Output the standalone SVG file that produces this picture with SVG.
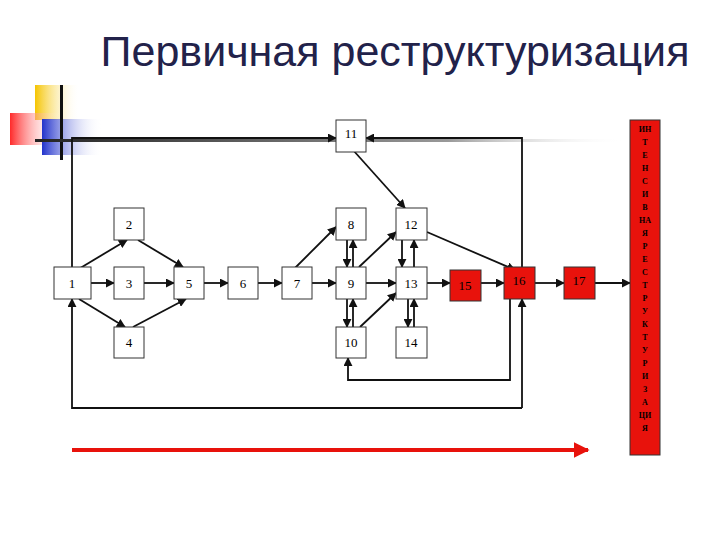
<svg xmlns="http://www.w3.org/2000/svg" width="720" height="540" viewBox="0 0 720 540">
<style>
.b{fill:#fff;stroke:#333;stroke-width:1}
.r{fill:#e8120c;stroke:#333;stroke-width:1}
.t{font-family:"Liberation Serif",serif;font-size:13px;text-anchor:middle;fill:#000}
.c{fill:none;stroke:#111;stroke-width:1.8;marker-end:url(#a)}
.l{fill:none;stroke:#111;stroke-width:1.5}
.v{font-family:"Liberation Serif",serif;font-size:8px;font-weight:bold;text-anchor:middle;fill:#000}
</style>
<defs>
<marker id="a" viewBox="0 0 10 10" refX="9" refY="5" markerWidth="5" markerHeight="5" orient="auto"><path d="M0,0L10,5L0,10z" fill="#111"/></marker>
<marker id="ar" viewBox="0 0 10 10" refX="9" refY="5" markerWidth="4" markerHeight="4" orient="auto"><path d="M0,0L10,5L0,10z" fill="#e8120c"/></marker>
<linearGradient id="gy" x1="0" x2="1"><stop offset="0" stop-color="#f5c400"/><stop offset="1" stop-color="#fff" stop-opacity="0"/></linearGradient>
<linearGradient id="gr" x1="0" x2="1"><stop offset="0" stop-color="#ff2a2a"/><stop offset="1" stop-color="#fff" stop-opacity="0"/></linearGradient>
<linearGradient id="gb" x1="0" x2="1"><stop offset="0" stop-color="#2233cc"/><stop offset="1" stop-color="#fff" stop-opacity="0"/></linearGradient>
<linearGradient id="gl" x1="0" x2="1"><stop offset="0" stop-color="#222"/><stop offset="0.7" stop-color="#999"/><stop offset="1" stop-color="#fff" stop-opacity="0"/></linearGradient>
</defs>
<g id="decor">
<rect x="35" y="85" width="45" height="35" fill="url(#gy)"/>
<rect x="10" y="113" width="50" height="32" fill="url(#gr)"/>
<rect x="42" y="119" width="60" height="36" fill="url(#gb)"/>
<rect x="60" y="85" width="3" height="75" fill="#111"/>
<rect x="35" y="139" width="590" height="3" fill="url(#gl)"/>
</g>
<text x="395" y="66" font-family="'Liberation Sans',Arial,sans-serif" font-size="43" fill="#22224a" text-anchor="middle">Первичная реструктуризация</text>
<g id="connectors">
<path class="c" d="M72,267V138H336"/>
<path class="c" d="M522,267V138H366"/>
<path class="c" d="M522,408V299"/>
<path class="c" d="M522,408H72V299"/>
<path class="c" d="M510,299V380H348V358"/>
<path class="c" d="M77,270L127,240"/>
<path class="c" d="M138,240L183,267"/>
<path class="c" d="M91,283H114"/>
<path class="c" d="M144,283H174"/>
<path class="c" d="M79,299L125,327"/>
<path class="c" d="M133,327L186,299"/>
<path class="c" d="M204,283H228"/>
<path class="c" d="M258,283H282"/>
<path class="c" d="M312,283H336"/>
<path class="c" d="M293,270L336,227"/>
<path class="c" d="M347,240V267"/>
<path class="c" d="M353,267V240"/>
<path class="c" d="M347,299V327"/>
<path class="c" d="M353,327V299"/>
<path class="c" d="M359,267L396,232"/>
<path class="c" d="M360,327L396,293"/>
<path class="c" d="M402,240V267"/>
<path class="c" d="M414,267V240"/>
<path class="c" d="M408,299V327"/>
<path class="c" d="M414,327V299"/>
<path class="c" d="M366,283H396"/>
<path class="c" d="M427,283H450"/>
<path class="c" d="M481,283H504"/>
<path class="c" d="M535,283H564"/>
<path class="c" d="M595,283H630"/>
<path class="c" d="M353,150L405,208"/>
<path class="c" d="M427,232L515,270"/>
<path d="M72,450H588" stroke="#e8120c" stroke-width="4" marker-end="url(#ar)"/>
</g>
<g id="n1"><rect class="b" x="54" y="267" width="37" height="32"/><text class="t" x="72" y="288">1</text></g>
<g id="n2"><rect class="b" x="114" y="208" width="30" height="32"/><text class="t" x="129" y="229">2</text></g>
<g id="n3"><rect class="b" x="114" y="267" width="30" height="32"/><text class="t" x="129" y="288">3</text></g>
<g id="n4"><rect class="b" x="114" y="327" width="30" height="31"/><text class="t" x="129" y="347">4</text></g>
<g id="n5"><rect class="b" x="174" y="267" width="30" height="32"/><text class="t" x="189" y="288">5</text></g>
<g id="n6"><rect class="b" x="228" y="267" width="30" height="32"/><text class="t" x="243" y="288">6</text></g>
<g id="n7"><rect class="b" x="282" y="267" width="30" height="32"/><text class="t" x="297" y="288">7</text></g>
<g id="n8"><rect class="b" x="336" y="208" width="30" height="32"/><text class="t" x="351" y="229">8</text></g>
<g id="n9"><rect class="b" x="336" y="267" width="30" height="32"/><text class="t" x="351" y="288">9</text></g>
<g id="n10"><rect class="b" x="336" y="327" width="30" height="31"/><text class="t" x="351" y="347">10</text></g>
<g id="n11"><rect class="b" x="336" y="120" width="30" height="32"/><text class="t" x="351" y="138">11</text></g>
<g id="n12"><rect class="b" x="396" y="208" width="31" height="32"/><text class="t" x="411" y="229">12</text></g>
<g id="n13"><rect class="b" x="396" y="267" width="31" height="32"/><text class="t" x="411" y="288">13</text></g>
<g id="n14"><rect class="b" x="396" y="327" width="31" height="31"/><text class="t" x="411" y="347">14</text></g>
<g id="n15"><rect class="r" x="450" y="270" width="31" height="31"/><text class="t" x="465" y="290">15</text></g>
<g id="n16"><rect class="r" x="504" y="267" width="31" height="32"/><text class="t" x="519" y="285">16</text></g>
<g id="n17"><rect class="r" x="564" y="267" width="31" height="32"/><text class="t" x="579" y="285">17</text></g>
<g id="bar"><rect class="r" x="630" y="120" width="30" height="335"/>
<text class="v" x="645" y="132">ИН</text><text class="v" x="645" y="145">Т</text><text class="v" x="645" y="158">Е</text><text class="v" x="645" y="171">Н</text><text class="v" x="645" y="184">С</text><text class="v" x="645" y="197">И</text><text class="v" x="645" y="210">В</text><text class="v" x="645" y="223">НА</text><text class="v" x="645" y="236">Я</text><text class="v" x="645" y="249">Р</text><text class="v" x="645" y="262">Е</text><text class="v" x="645" y="275">С</text><text class="v" x="645" y="288">Т</text><text class="v" x="645" y="301">Р</text><text class="v" x="645" y="314">У</text><text class="v" x="645" y="327">К</text><text class="v" x="645" y="340">Т</text><text class="v" x="645" y="353">У</text><text class="v" x="645" y="366">Р</text><text class="v" x="645" y="379">И</text><text class="v" x="645" y="392">З</text><text class="v" x="645" y="405">А</text><text class="v" x="645" y="418">ЦИ</text><text class="v" x="645" y="431">Я</text>
</g>
</svg>
